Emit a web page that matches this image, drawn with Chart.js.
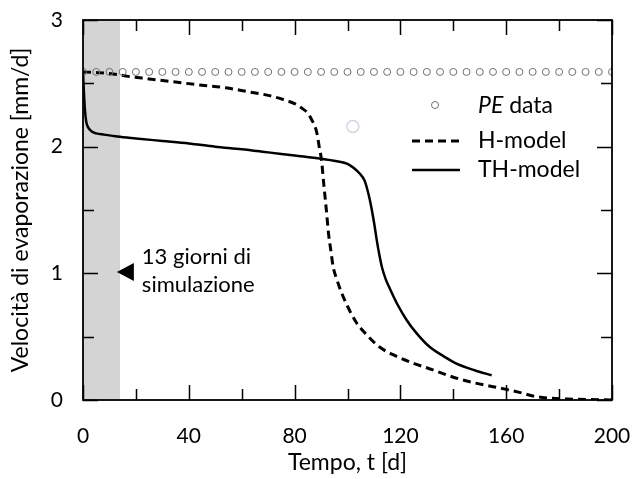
<!DOCTYPE html>
<html>
<head>
<meta charset="utf-8">
<script src="https://cdn.jsdelivr.net/npm/chart.js@4.4.0/dist/chart.umd.min.js"></script>
<style>
  html, body { margin: 0; padding: 0; background: #fff; }
  #wrap { width: 642px; height: 479px; }
</style>
</head>
<body>
<div id="wrap"><canvas id="chart" width="642" height="479"></canvas></div>
<script>
// PE data (measured potential evaporation), every 5 days
const peTimes = [0, 5, 10, 15, 20, 25, 30, 35, 40, 45, 50, 55, 60, 65, 70, 75, 80, 85, 90, 95, 100,
  105, 110, 115, 120, 125, 130, 135, 140, 145, 150, 155, 160, 165, 170, 175, 180, 185, 190, 195, 200];
const peValues = [2.59, 2.59, 2.59, 2.59, 2.59, 2.59, 2.59, 2.59, 2.59, 2.59, 2.59, 2.59, 2.59, 2.59,
  2.59, 2.59, 2.59, 2.59, 2.59, 2.59, 2.59, 2.59, 2.59, 2.59, 2.59, 2.59, 2.59, 2.59, 2.59, 2.59,
  2.59, 2.59, 2.59, 2.59, 2.59, 2.59, 2.59, 2.59, 2.59, 2.59, 2.59];

// H-model (dashed)
const hTimes = [0, 5, 13, 17, 25, 35, 45, 54, 62, 70, 76, 80, 83, 85.2, 86.5, 87.7, 88.5, 89.3, 90.2, 91, 92, 92.8,
  93.7, 94.6, 96, 97.5, 100, 103.4, 107, 112, 118, 125, 132, 140, 148, 155, 160, 165, 171.5, 177, 183, 190, 200];
const hValues = [2.59, 2.585, 2.57, 2.555, 2.535, 2.51, 2.485, 2.465, 2.435, 2.405, 2.37, 2.34, 2.3, 2.26, 2.21, 2.16,
  2.1, 2.0, 1.89, 1.71, 1.5, 1.32, 1.18, 1.05, 0.95, 0.86, 0.74, 0.61, 0.52, 0.42, 0.35, 0.29, 0.24, 0.18, 0.135,
  0.105, 0.084, 0.06, 0.026, 0.014, 0.008, 0.004, 0.0];

// TH-model (solid)
const thTimes = [0, 0.3, 0.7, 1.2, 2, 3.3, 5, 8, 13, 20, 30, 40, 50, 60, 70, 80, 90, 96, 100, 102.5, 104.5, 106.5,
  108, 109.2, 110.2, 111, 112, 113, 114.5, 116, 119, 122.4, 126, 131, 136, 141, 148, 154.5];
const thValues = [2.59, 2.45, 2.3, 2.2, 2.15, 2.12, 2.105, 2.095, 2.08, 2.065, 2.045, 2.025, 2.0, 1.98, 1.955, 1.93,
  1.905, 1.885, 1.865, 1.83, 1.79, 1.73, 1.62, 1.5, 1.38, 1.27, 1.15, 1.05, 0.95, 0.88, 0.75, 0.63, 0.53, 0.42,
  0.35, 0.29, 0.235, 0.195];

// stray open marker
const strayTimes = [102];
const strayValues = [2.16];

const bandEnd = 14;

const xTicks = [0, 40, 80, 120, 160, 200];
const yTicks = [0, 1, 2, 3];

const FONT = "Lato";

function pts(xs, ys) { return xs.map((x, i) => ({ x: x, y: ys[i] })); }

const framePlugin = {
  id: 'frame',
  beforeDatasetsDraw(chart) {
    const { ctx, chartArea: a, scales: { x } } = chart;
    ctx.save();
    ctx.fillStyle = '#d4d4d4';
    const x0 = x.getPixelForValue(0), x1 = x.getPixelForValue(bandEnd);
    ctx.fillRect(x0, a.top, x1 - x0, a.bottom - a.top);
    ctx.restore();
  },
  afterDatasetsDraw(chart) {
    const { ctx, chartArea: a, scales: { x, y } } = chart;
    ctx.save();
    ctx.strokeStyle = '#000';
    ctx.lineWidth = 1.5;
    // inward ticks on all sides
    for (let v = 0; v <= 200; v += 20) {
      const px = Math.round(x.getPixelForValue(v)) + 0.5;
      const len = (v % 40 === 0) ? 15 : 11;
      ctx.beginPath();
      ctx.moveTo(px, a.bottom); ctx.lineTo(px, a.bottom - len);
      ctx.moveTo(px, a.top); ctx.lineTo(px, a.top + len);
      ctx.stroke();
    }
    for (let v = 0; v <= 3; v += 0.5) {
      const py = Math.round(y.getPixelForValue(v)) + 0.5;
      const len = (v % 1 === 0) ? 15 : 11;
      ctx.beginPath();
      ctx.moveTo(a.left, py); ctx.lineTo(a.left + len, py);
      ctx.moveTo(a.right, py); ctx.lineTo(a.right - len, py);
      ctx.stroke();
    }
    ctx.lineWidth = 1.8;
    ctx.strokeRect(a.left, a.top, a.right - a.left, a.bottom - a.top);

    // annotation
    const tx = x.getPixelForValue(12.8), ty = y.getPixelForValue(1.01);
    ctx.fillStyle = '#000';
    ctx.beginPath();
    ctx.moveTo(tx, ty);
    ctx.lineTo(tx + 17, ty - 9);
    ctx.lineTo(tx + 17, ty + 9);
    ctx.closePath();
    ctx.fill();
    ctx.font = '22px ' + FONT;
    ctx.textBaseline = 'middle';
    ctx.textAlign = 'left';
    ctx.fillText('13 giorni di', tx + 25, ty - 15);
    ctx.fillText('simulazione', tx + 25, ty + 13);

    // legend
    const lx = 412, lw = 48, tX = 478;
    const rows = [106, 141, 170];
    ctx.strokeStyle = '#707070';
    ctx.lineWidth = 1;
    ctx.beginPath();
    ctx.arc(435, rows[0] - 1, 3.5, 0, Math.PI * 2);
    ctx.stroke();
    ctx.strokeStyle = '#000';
    ctx.lineWidth = 3;
    ctx.setLineDash([8, 5]);
    ctx.beginPath(); ctx.moveTo(lx, rows[1]); ctx.lineTo(lx + lw, rows[1]); ctx.stroke();
    ctx.setLineDash([]);
    ctx.lineWidth = 2.5;
    ctx.beginPath(); ctx.moveTo(lx, rows[2]); ctx.lineTo(lx + lw, rows[2]); ctx.stroke();
    ctx.font = 'italic 23px ' + FONT;
    ctx.fillText('PE', tX, rows[0]);
    const w = ctx.measureText('PE').width;
    ctx.font = '23px ' + FONT;
    ctx.fillText(' data', tX + w, rows[0]);
    ctx.fillText('H-model', tX, rows[1]);
    ctx.fillText('TH-model', tX, rows[2]);
    ctx.restore();
  }
};

new Chart(document.getElementById('chart'), {
  type: 'scatter',
  data: {
    datasets: [
      {
        label: 'PE data',
        data: pts(peTimes, peValues),
        showLine: false,
        pointRadius: 3.5,
        pointBorderColor: '#707070',
        pointBackgroundColor: 'rgba(255,255,255,0)',
        pointBorderWidth: 1
      },
      {
        label: 'H-model',
        data: pts(hTimes, hValues),
        showLine: true,
        borderColor: '#000',
        borderWidth: 3,
        borderDash: [8, 5],
        pointRadius: 0,
        cubicInterpolationMode: 'monotone'
      },
      {
        label: 'TH-model',
        data: pts(thTimes, thValues),
        showLine: true,
        borderColor: '#000',
        borderWidth: 2.5,
        pointRadius: 0,
        cubicInterpolationMode: 'monotone'
      },
      {
        label: 'stray',
        data: pts(strayTimes, strayValues),
        showLine: false,
        pointRadius: 6,
        pointBorderColor: '#d4d6e4',
        pointBackgroundColor: 'rgba(255,255,255,0)',
        pointBorderWidth: 1.5
      }
    ]
  },
  options: {
    responsive: false,
    animation: false,
    layout: { padding: { left: 0, right: 30, top: 20, bottom: 0 } },
    plugins: { legend: { display: false }, tooltip: { enabled: false } },
    scales: {
      x: {
        type: 'linear',
        min: 0, max: 200,
        grid: { display: false },
        border: { display: false },
        afterBuildTicks(s) { s.ticks = xTicks.map(v => ({ value: v })); },
        afterFit(s) { s.height = 79; s.paddingLeft = 0; s.paddingRight = 0; },
        ticks: { color: '#000', font: { family: FONT, size: 21 }, padding: 16, maxRotation: 0 },
        title: { display: true, text: 'Tempo, t [d]', color: '#000', font: { family: FONT, size: 23 }, padding: { top: 0, bottom: 3 } }
      },
      y: {
        type: 'linear',
        min: 0, max: 3,
        grid: { display: false },
        border: { display: false },
        afterBuildTicks(s) { s.ticks = yTicks.map(v => ({ value: v })); },
        afterFit(s) { s.width = 83; s.paddingTop = 0; s.paddingBottom = 0; },
        ticks: { color: '#000', font: { family: FONT, size: 21 }, padding: 12 },
        title: { display: true, text: 'Velocità di evaporazione [mm/d]', color: '#000', font: { family: FONT, size: 23 }, padding: { top: 7, bottom: 0 } }
      }
    }
  },
  plugins: [framePlugin]
});
</script>
</body>
</html>
